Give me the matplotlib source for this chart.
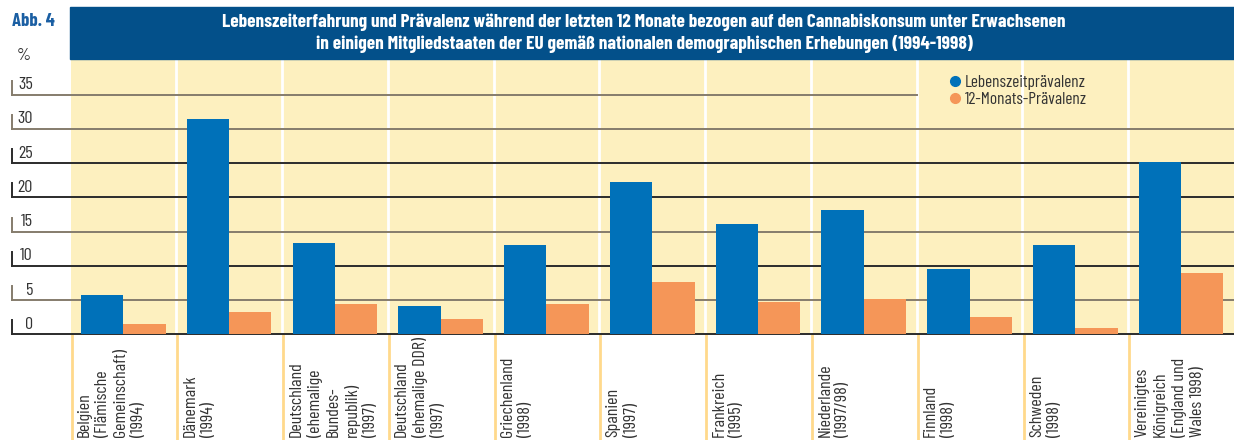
import numpy as np
import matplotlib
matplotlib.use("Agg")
import matplotlib.pyplot as plt
from matplotlib.patches import Rectangle
from matplotlib.lines import Line2D
from matplotlib.transforms import blended_transform_factory

plt.rcParams['font.family'] = ['Barlow Condensed', 'Barlow Semi Condensed', 'DejaVu Sans']

# data
countries = ["Belgien\n(Flämische\nGemeinschaft)\n(1994)",
             "Dänemark\n(1994)",
             "Deutschland\n(ehemalige\nBundes-\nrepublik)\n(1997)",
             "Deutschland\n(ehemalige DDR)\n(1997)",
             "Griechenland\n(1998)",
             "Spanien\n(1997)",
             "Frankreich\n(1995)",
             "Niederlande\n(1997/98)",
             "Finnland\n(1998)",
             "Schweden\n(1998)",
             "Vereinigtes\nKönigreich\n(England und\nWales 1998)"]
lifetime = [5.7, 31.5, 13.4, 4.1, 13.1, 22.2, 16.1, 18.1, 9.6, 13.0, 25.1]
last12 = [1.5, 3.3, 4.4, 2.2, 4.4, 7.6, 4.7, 5.1, 2.5, 0.9, 8.9]
yticks = [0, 5, 10, 15, 20, 25, 30, 35]
series_names = ["Lebenszeitprävalenz", "12-Monats-Prävalenz"]

title = ("Lebenszeiterfahrung und Prävalenz während der letzten 12 Monate bezogen auf den Cannabiskonsum unter Erwachsenen\n"
         "in einigen Mitgliedstaaten der EU gemäß nationalen demographischen Erhebungen (1994-1998)")

BLUE = '#0071B9'
ORANGE = '#F59658'
YELLOW = '#FDF0BF'
BANNER = '#03508A'
TXT = '#333333'

W, H = 1234, 440
fig = plt.figure(figsize=(W / 100, H / 100), dpi=100)

# axes geometry in pixels
ax_l, ax_r, ax_t, ax_b = 70.5, 1234, 59, 334.3
ax = fig.add_axes([ax_l / W, 1 - ax_b / H, (ax_r - ax_l) / W, (ax_b - ax_t) / H])
ax.set_facecolor(YELLOW)
ax.set_xlim(-0.5, len(countries) - 0.5)
ax.set_ylim(0, 40.2)
for s in ax.spines.values():
    s.set_visible(False)
ax.set_xticks([])
ax.set_yticks([])

x = np.arange(len(countries))
bw = 0.4
ax.bar(x - bw / 2, lifetime, bw, color=BLUE, zorder=4)
ax.bar(x + bw / 2, last12, bw, color=ORANGE, zorder=4)

# category separators
bounds = np.arange(len(countries) + 1) - 0.5
btr = blended_transform_factory(ax.transData, ax.transAxes)
ax.vlines(bounds[1:-1], 0, 1, transform=btr, color='white', lw=2, zorder=1)
below = (H - ax_b) / (ax_b - ax_t)
ax.vlines(bounds[:-1] + 0.01, -below, 0, transform=btr, color='#FFD98C', lw=2,
          clip_on=False, zorder=1)

# gridlines running out to the left margin, with tick marks and labels
xl = (12 - ax_l) / (ax_r - ax_l)
xlab = (33 - ax_l) / (ax_r - ax_l)
ytr = blended_transform_factory(ax.transAxes, ax.transData)
px = (ax_b - ax_t) / 40.2
for v in yticks:
    xmax = (917 - ax_l) / (ax_r - ax_l) if v == 35 else 1
    c = '#2b2b2b' if v in (0, 10, 20, 25) else '#857c6c'
    ax.plot([xl, xmax], [v, v], transform=ytr, color=c, lw=1.4, clip_on=False, zorder=3)
    ax.plot([xl, xl], [v, v + 14 / px], transform=ytr, color=c, lw=1.4, clip_on=False, zorder=3)
    ax.text(xlab, v + 10 / px, str(v), transform=ytr, ha='right', va='center',
            fontsize=13, color=TXT)

# category labels
ltr = blended_transform_factory(ax.transData, fig.transFigure)
for i, lab in enumerate(countries):
    ax.text(i - 0.5 + 0.06, 1 - 437 / H, lab, transform=ltr, rotation=90,
            ha='left', va='bottom', multialignment='left', fontsize=13,
            color=TXT, linespacing=1.25)

# legend
handles = [Line2D([], [], ls='none', marker='o', ms=7, color=c) for c in (BLUE, ORANGE)]
leg = ax.legend(handles, series_names, loc='upper left',
                bbox_to_anchor=((950 - ax_l) / (ax_r - ax_l), 1 - 16 / (ax_b - ax_t)),
                frameon=False, prop={'size': 12.5},
                handlelength=0.6, handletextpad=0.25,
                labelspacing=0.1, borderpad=0, borderaxespad=0)
for t in leg.get_texts():
    t.set_color(TXT)

# title banner
fig.patches.append(Rectangle((70 / W, 1 - 59 / H), (W - 70) / W, 52 / H,
                             transform=fig.transFigure, color=BANNER, zorder=0))
fig.text(644 / W, 1 - 33 / H, title, ha='center', va='center', color='white',
         fontsize=13.8, fontweight='bold', linespacing=1.3)
fig.text(12 / W, 1 - 21 / H, "Abb. 4", ha='left', va='center', color='#1B5FA3',
         fontsize=13.5, fontweight='bold')
fig.text(17 / W, 1 - 55 / H, "%", ha='left', va='center', color=TXT, fontsize=13)

fig.savefig("out.png", dpi=100)
